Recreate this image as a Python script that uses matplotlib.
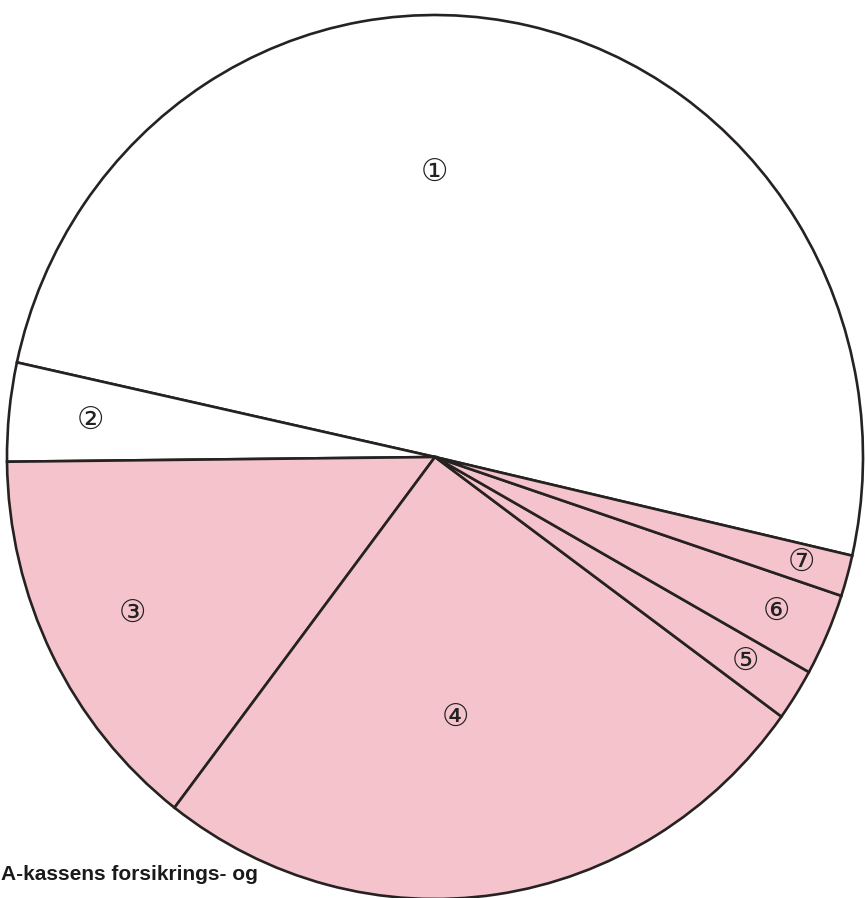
import numpy as np
import matplotlib
matplotlib.use("Agg")
import matplotlib.pyplot as plt

# slice shares (percent), counter-clockwise starting at the 7/1 boundary
labels = ["①", "②", "③", "④", "⑤", "⑥", "⑦"]
shares = [50.1, 3.6, 14.4, 25.4, 1.9, 3.0, 1.5]
shaded = [False, False, True, True, True, True, True]
title_line = "A-kassens forsikrings- og"

PINK = "#F5C3CB"
EDGE = "#262222"

# label placement tweaks (radius as fraction, extra angle in degrees)
label_radius = [0.645, 0.81, 0.79, 0.59, 0.86, 0.87, 0.89]
label_shift = [12.7, 0, 0, -3.6, 0, 0, 0]

W, H = 865, 898
fig = plt.figure(figsize=(W / 100, H / 100), dpi=100)
fig.patch.set_facecolor("white")
ax = fig.add_axes([0, 0, 1, 1])

colors = [PINK if s else "white" for s in shaded]
wedges, _ = ax.pie(shares, colors=colors, startangle=-12.9, counterclock=True,
                   wedgeprops=dict(edgecolor=EDGE, linewidth=1.9),
                   normalize=True)

# circle is slightly taller than wide in the scan -> stretch axes
cx, cy = 435, 457          # pixel centre (from top)
rx, ry = 428, 442          # pixel radii
ax.set_aspect("auto")
ax.set_xlim(-cx / rx, (W - cx) / rx)
ax.set_ylim(-(H - cy) / ry, cy / ry)
ax.axis("off")

for w, lab, r, d in zip(wedges, labels, label_radius, label_shift):
    mid = np.deg2rad((w.theta1 + w.theta2) / 2 + d)
    ax.text(r * np.cos(mid), r * np.sin(mid), lab, ha="center", va="center",
            fontsize=22, color="#222222",
            family=["DejaVu Sans", "Noto Sans CJK JP"])

fig.text(1 / W, 1 - 875 / H, title_line, ha="left", va="center",
         fontsize=15, fontweight="bold", color="#1a1a1a",
         family=["Liberation Sans", "DejaVu Sans"])

fig.savefig("out.png", dpi=100, facecolor="white")
